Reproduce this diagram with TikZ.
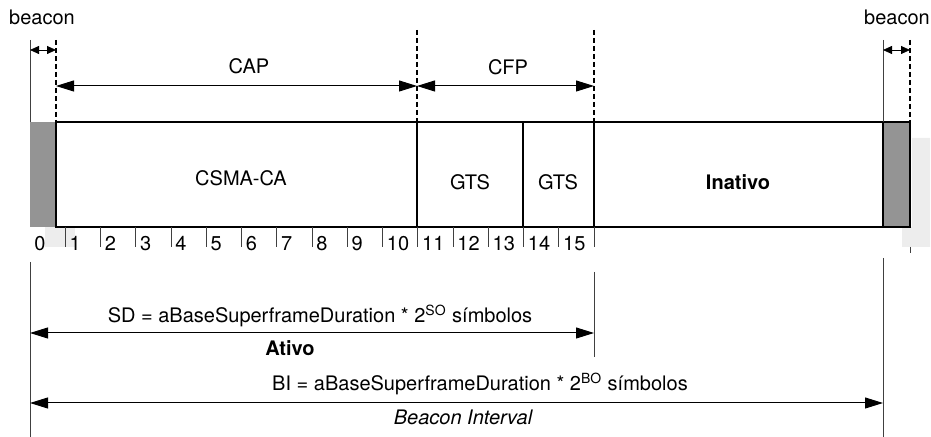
\documentclass[tikz,border=0pt]{standalone}
\usepackage{fontspec}
\setmainfont{TeX Gyre Heros}
\usetikzlibrary{arrows.meta, calc}

\begin{document}
\begin{tikzpicture}[x=0.5pt, y=-0.5pt,
        every node/.style={font=\fontsize{10}{12}\selectfont, inner sep=0pt, anchor=base},
        span arrow/.style={line width=0.5pt, {Triangle[length=9pt,width=5.5pt]}-{Triangle[length=9pt,width=5.5pt]}},
        beacon arrow/.style={line width=0.4pt, {Triangle[length=4.5pt,width=4pt]}-{Triangle[length=4.5pt,width=4pt]}},
        limit line/.style={line width=0.7pt, dash pattern=on 2.5pt off 1.5pt},
        thin line/.style={line width=0.3pt, black!75},
        frame/.style={line width=0.8pt},
        beacon fill/.style={fill=black!42},
        shadow fill/.style={fill=black!7}
    ]
    \useasboundingbox (0,0) rectangle (931,437);

    % scan artefacts
    \path[shadow fill] (45,227) rectangle (75,247);
    \path[shadow fill] (912,138) -- (930,138) -- (930,247) -- (902,247) -- (902,227) -- (912,227) -- cycle;

    % superframe
    \path[beacon fill] (30,122) rectangle (56,227);
    \draw[frame, beacon fill] (883,122) rectangle (910,227);
    \draw[frame] (56,122) rectangle (883,227);
    \foreach \x in {417,523,594} {
        \draw[frame] (\x,122) -- (\x,227);
    }

    \node (csma) at (241,186) {CSMA-CA};
    \node (gtsA) at (470,190) {GTS};
    \node (gtsB) at (558,190) {GTS};
    \node[font=\fontsize{10}{12}\selectfont\bfseries] (inativo) at (738,190) {Inativo};

    % slots
    \foreach \k in {0,...,15} {
        \node[anchor=base west] (slot\k) at ({30+35.25*\k+4},251) {\k};
    }
    \foreach \k in {1,...,16} {
        \draw[thin line] ({30+35.25*\k},227) -- ({30+35.25*\k},247);
    }

    % limits above
    \foreach \x/\y in {56/40,417/30,594/30,910/40} {
        \draw[limit line] (\x,\y) -- (\x,122);
    }
    \draw[thin line] (30,40) -- (30,122);
    \draw[thin line] (883,40) -- (883,122);

    \node (beaconL) at (42,25) {beacon};
    \node (beaconR) at (897,25) {beacon};
    \coordinate (bL1) at (30,50);
    \coordinate (bL2) at (56,50);
    \coordinate (bR1) at (883,50);
    \coordinate (bR2) at (910,50);
    \draw[beacon arrow] (bL1) -- (bL2);
    \draw[beacon arrow] (bR1) -- (bR2);

    \node (cap) at (249,74) {CAP};
    \node (cfp) at (508,75) {CFP};
    \coordinate (capL) at (56,86);
    \coordinate (capR) at (417,86);
    \coordinate (cfpR) at (594,86);
    \draw[span arrow] (capL) -- (capR);
    \draw[span arrow] (capR) -- (cfpR);

    % limits below
    \draw[thin line] (30,262) -- (30,437);
    \draw[thin line] (594,272) -- (594,357);
    \draw[thin line] (883,258) -- (883,437);
    \draw[thin line] (910,247) -- (910,253);

    \coordinate (sdL) at (30,333);
    \coordinate (sdR) at (594,333);
    \coordinate (biL) at (30,403);
    \coordinate (biR) at (883,403);
    \draw[span arrow] (sdL) -- (sdR);
    \draw[span arrow] (biL) -- (biR);

    \node (sd) at (320,323) {SD = aBaseSuperframeDuration * 2\textsuperscript{SO} símbolos};
    \node[font=\fontsize{10}{12}\selectfont\bfseries] (ativo) at (290,356) {Ativo};
    \node (bi) at (480,391) {BI = aBaseSuperframeDuration * 2\textsuperscript{BO} símbolos};
    \node[font=\fontsize{10}{12}\selectfont\itshape] (interval) at (463,425) {Beacon Interval};
\end{tikzpicture}
\end{document}
